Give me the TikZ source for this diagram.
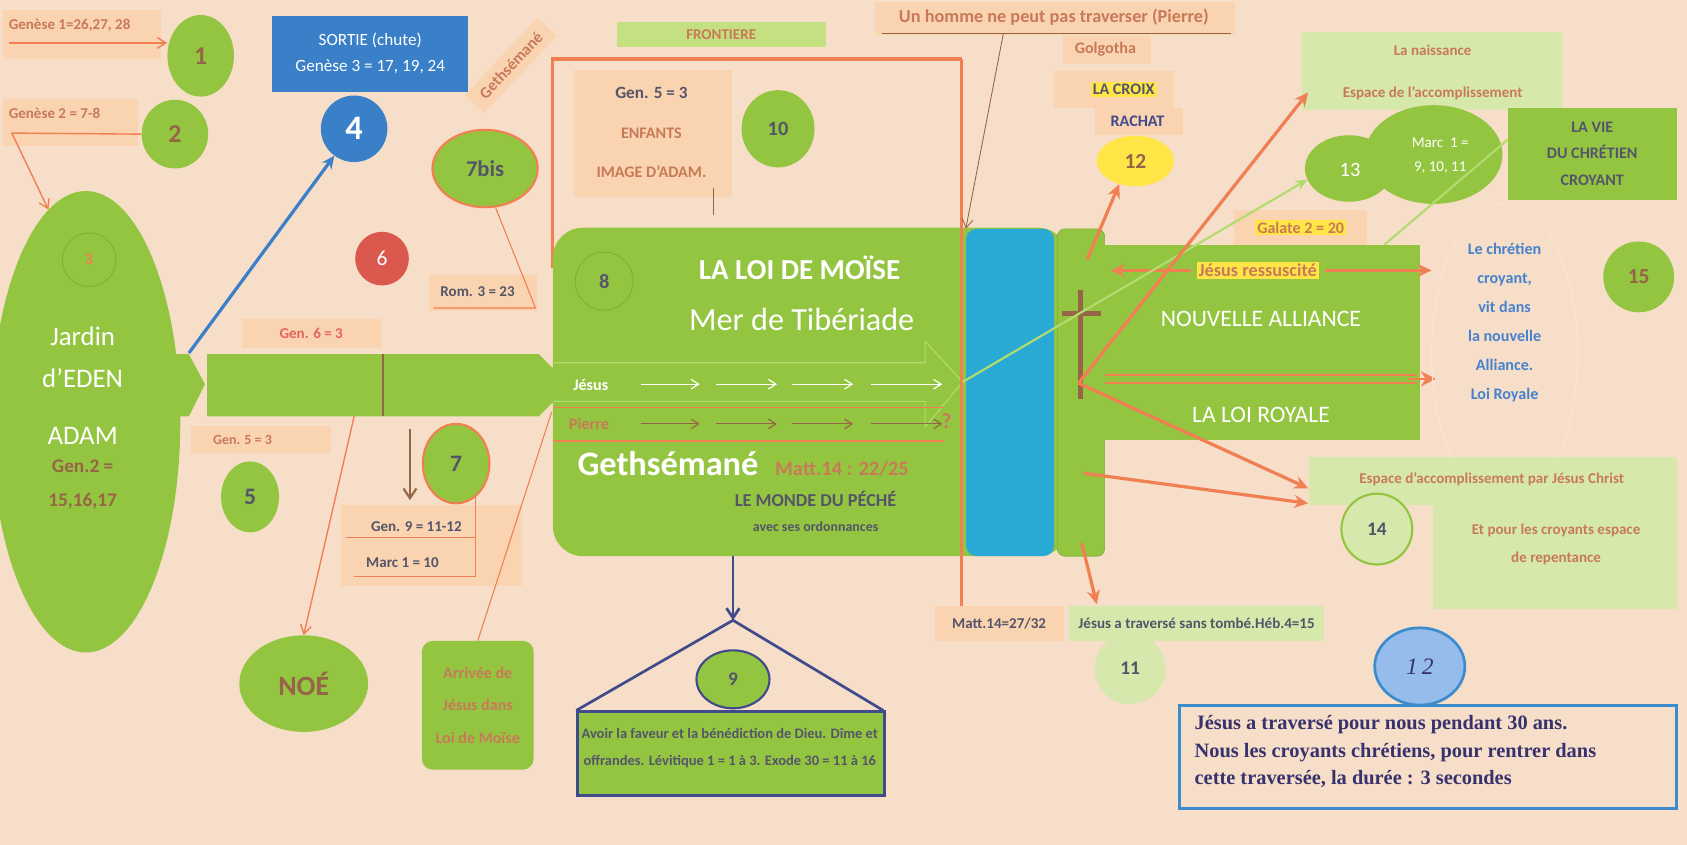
\documentclass[tikz,border=0pt]{standalone}
\usepackage{fontspec}
\setmainfont{Carlito}
\newfontfamily\serifbold{Liberation Serif}
\usetikzlibrary{arrows.meta,shapes.geometric}
\definecolor{bg}{RGB}{247,222,200}
\definecolor{pch}{RGB}{250,211,176}
\definecolor{gr}{RGB}{148,197,65}
\definecolor{grd}{RGB}{125,175,55}
\definecolor{grl}{RGB}{178,220,112}
\definecolor{lgr}{RGB}{214,232,172}
\definecolor{mgr}{RGB}{196,224,128}
\definecolor{org}{RGB}{240,128,82}
\definecolor{tbr}{RGB}{200,122,88}
\definecolor{dbr}{RGB}{150,100,70}
\definecolor{dsl}{RGB}{85,85,105}
\definecolor{bluebox}{RGB}{58,128,200}
\definecolor{seab}{RGB}{40,170,212}
\definecolor{redc}{RGB}{218,88,78}
\definecolor{ylw}{RGB}{255,230,70}
\definecolor{navy}{RGB}{65,75,140}
\definecolor{tblue}{RGB}{70,130,205}
\definecolor{salmon}{RGB}{228,100,92}
\definecolor{cbfill}{RGB}{150,188,235}
\definecolor{cbdraw}{RGB}{60,140,205}
\definecolor{sern}{RGB}{55,50,110}
\newcommand\fsz[1]{\fontsize{#1}{#1}\selectfont}
\tikzset{
  txt/.style={inner sep=0pt, align=center},
  pbox/.style={fill=pch, draw=none, inner sep=0pt, anchor=north west},
  gcirc/.style={ellipse, fill=gr, inner sep=0pt},
  othin/.style={draw=org, line width=1.3pt, -{Straight Barb[length=8pt,width=10pt]}},
  othick/.style={draw=org, line width=3pt, -{Stealth[length=13pt,width=12pt]}},
  bthin/.style={draw=dbr, line width=0.8pt, -{Straight Barb[length=8pt,width=10pt]}},
}
\begin{document}
\begin{tikzpicture}[x=1pt,y=-1pt]
\useasboundingbox (0,0) rectangle (1572,787);
\fill[bg] (0,0) rectangle (1572,787);

% ---------- top left
\node[pbox, minimum width=147pt, minimum height=46pt] (g1box) at (3,9) {};
\node[txt, anchor=west, text=tbr, font=\bfseries\fsz{14}] (g1txt) at (8,24) {Genèse 1=26,27, 28};
\node[gcirc, minimum width=62pt, minimum height=76pt, text=dbr, font=\bfseries\fsz{24}] (c1) at (187,52) {1};
\coordinate (g1s) at (8,40);
\draw[othin] (g1s) -- (g1s -| c1.west);

\node[pbox, minimum width=125pt, minimum height=44pt] (g2box) at (3,92) {};
\node[txt, anchor=west, text=tbr, font=\bfseries\fsz{14}] (g2txt) at (8,106) {Genèse 2 = 7-8};
\node[gcirc, minimum width=62pt, minimum height=64pt, text=dbr, font=\bfseries\fsz{24}] (c2) at (163,125) {2};

\node[ellipse, fill=gr, minimum width=176pt, minimum height=430pt, inner sep=0pt] (jardin) at (80,393) {};
\coordinate (g2a) at (11,124);
\draw[othin] (c2.west) -- (g2a) -- (jardin.100);
\node[circle, draw=grd, line width=0.8pt, minimum size=50pt, inner sep=0pt, text=org, font=\bfseries\fsz{15}] (c3) at (83,242) {3};
\node[txt, text=white, font=\fsz{25}] (jar1) at (77,313) {Jardin};
\node[txt, text=white, font=\fsz{25}] (jar2) at (77,352) {d’EDEN};
\node[txt, text=white, font=\fsz{25}] (jar3) at (77,406) {ADAM};
\node[txt, text=dbr, font=\bfseries\fsz{18}] (jar4) at (77,434) {Gen.2 =};
\node[txt, text=dbr, font=\bfseries\fsz{18}] (jar5) at (77,467) {15,16,17};

% bar
\fill[gr] (160,330) -- (176,330) -- (191,358) -- (176,388) -- (160,388) -- cycle;
\fill[gr] (193,330) -- (502,330) -- (516,344) -- (516,374) -- (502,388) -- (193,388) -- cycle;
\draw[dbr, line width=2pt] (357,330) -- (357,388);

\node[pbox, minimum width=130pt, minimum height=27pt] (g6box) at (225,297) {};
\node[txt, text=salmon, font=\bfseries\fsz{14}] (g6txt) at (290,311) {Gen. 6 = 3};
\node[pbox, minimum width=130pt, minimum height=25pt] (g5box) at (178,397) {};
\node[txt, text=tbr, font=\bfseries\fsz{13}] (g5txt) at (226,410) {Gen. 5 = 3};
\node[gcirc, minimum width=54pt, minimum height=66pt, text=dsl, font=\bfseries\fsz{22}] (c5) at (233,463) {5};

\node[gcirc, minimum width=120pt, minimum height=90pt, text=dbr, font=\bfseries\fsz{26}] (noe) at (283,637) {NOÉ};
\coordinate (noeS) at (330,388);
\draw[othin] (noeS) -- (noe.north);

\coordinate (dA) at (382,400);
\coordinate (dB) at (382,466);
\draw[draw=dbr, line width=2pt, -{Straight Barb[length=9pt,width=12pt]}] (dA) -- (dB);

\node[pbox, minimum width=168pt, minimum height=76pt] (g9box) at (318,470) {};
\node[txt, text=dsl, font=\bfseries\fsz{14}] (g9a) at (388,491) {Gen. 9 = 11-12};
\node[txt, text=dsl, font=\bfseries\fsz{14}] (g9b) at (375,524) {Marc 1 = 10};
\node[gcirc, draw=org, line width=2pt, minimum width=62pt, minimum height=74pt, text=dsl, font=\bfseries\fsz{22}] (c7) at (425,432) {7};
\coordinate (u1) at (322,501);
\coordinate (u2) at (330,537);
\draw[org, line width=1pt] (c7.-60) -- (c7.-60 |- u2) -- (u2);
\draw[org, line width=1pt] (u1) -- (c7.-60 |- u1);

\node[fill=gr, rounded corners=10pt, minimum width=104pt, minimum height=120pt, anchor=north west, inner sep=0pt] (arr) at (393,597) {};
\node[txt, text=tbr, font=\bfseries\fsz{15}] (arrt) at (arr.center) {Arrivée de\\[15pt]Jésus dans\\[15pt]Loi de Moïse};
\coordinate (barE) at (514,384);
\draw[org, line width=1pt] (barE) -- (arr.north);

% ---------- SORTIE, 4, 6, 7bis
\node[fill=bluebox, minimum width=183pt, minimum height=71pt, inner sep=0pt] (sortie) at (345,50) {};
\node[txt, text=white, font=\fsz{16}] (sortt) at (sortie.center) {SORTIE (chute)\\[8pt]Genèse 3 = 17, 19, 24};
\node[circle, fill=bluebox, minimum size=62pt, inner sep=0pt, text=white, font=\bfseries\fsz{32}] (c4) at (330,120) {4};
\coordinate (b0) at (176,329);
\draw[draw=bluebox, line width=3pt, -{Stealth[length=12pt,width=11pt]}] (b0) -- (c4);
\node[circle, fill=redc, minimum size=50pt, inner sep=0pt, text=white, font=\fsz{20}] (c6) at (356,241) {6};

\node[fill=pch, rotate=47, inner xsep=10pt, inner ysep=7pt, text=tbr, font=\bfseries\fsz{15}] (geth) at (476,61) {Gethsémané};
\node[gcirc, draw=org, line width=2pt, minimum width=98pt, minimum height=72pt, text=dsl, font=\bfseries\fsz{21}] (c7b) at (452,157) {7bis};
\node[pbox, minimum width=100pt, minimum height=34pt] (rombox) at (400,256) {};
\node[txt, text=dsl, font=\bfseries\fsz{14}] (romt) at (445,272) {Rom. 3 = 23};
\coordinate (romR) at (499,287);
\coordinate (romL) at (404,287);
\draw[org, line width=1pt] (c7b.-75) -- (romR) -- (romL);

% ---------- top middle
\node[fill=mgr, minimum width=195pt, minimum height=23pt, inner sep=0pt, text=tbr, font=\bfseries\fsz{14}] (front) at (672,32) {FRONTIERE};
\coordinate (fA) at (515,250);
\coordinate (fB) at (515,55);
\coordinate (fC) at (896,55);
\draw[org, line width=3pt] (fA) -- (fB) -- (fC);

\node[pbox, minimum width=147pt, minimum height=118pt] (enfbox) at (535,65) {};
\node[txt, text=dsl, font=\bfseries\fsz{16}] (enf1) at (607,87) {Gen. 5 = 3};
\node[txt, text=tbr, font=\bfseries\fsz{15}] (enf2) at (607,124) {ENFANTS};
\node[txt, text=tbr, font=\bfseries\fsz{15}] (enf3) at (607,160) {IMAGE D’ADAM.};
\coordinate (enfl1) at (665,175);
\coordinate (enfl2) at (665,200);
\draw[dbr, line width=0.8pt] (enfl1) -- (enfl2);
\node[gcirc, minimum width=68pt, minimum height=72pt, text=dsl, font=\bfseries\fsz{19}] (c10) at (725,120) {10};

\node[pbox, minimum width=336pt, minimum height=30pt] (uhbox) at (815,2) {};
\node[txt, text=tbr, font=\bfseries\fsz{17}] (uht) at (982,16) {Un homme ne peut pas traverser (Pierre)};
\coordinate (uhL) at (822,31);
\coordinate (uhR) at (1147,31);
\coordinate (uhA) at (935,31);
\draw[dbr, line width=1pt] (uhL) -- (uhR);

\node[pbox, minimum width=82pt, minimum height=26pt] (golbox) at (990,33) {};
\node[txt, text=tbr, font=\bfseries\fsz{15}] (golt) at (1030,46) {Golgotha};
\node[pbox, minimum width=112pt, minimum height=34pt] (crbox) at (982,66) {};
\node[fill=ylw, inner xsep=2pt, inner ysep=2pt, text=dsl, font=\bfseries\fsz{15}] (croix) at (1047,83) {LA CROIX};
\node[pbox, minimum width=82pt, minimum height=26pt] (rabox) at (1020,100) {};
\node[txt, text=navy, font=\bfseries\fsz{15}] (rach) at (1060,113) {RACHAT};
\node[ellipse, fill=ylw, minimum width=72pt, minimum height=47pt, inner sep=0pt, text=dbr, font=\bfseries\fsz{20}] (c12) at (1058,150) {12};

% ---------- big box
\node[fill=gr, rounded corners=28pt, minimum width=480pt, minimum height=306pt, anchor=north west, inner sep=0pt] (loi) at (515,212) {};
\node[circle, draw=grd, line width=0.8pt, minimum size=54pt, inner sep=0pt, text=dsl, font=\bfseries\fsz{19}] (c8) at (563,262) {8};
\node[txt, text=white, font=\bfseries\fsz{27}] (loi1) at (745,250) {LA LOI DE MOÏSE};
\node[txt, text=white, font=\fsz{30}] (loi2) at (747,298) {Mer de Tibériade};
\draw[grl, line width=1pt] (516,338) -- (862,338) -- (862,318) -- (897,356) -- (862,398) -- (862,374) -- (516,374);
\draw[org, line width=1.2pt] (516,380) -- (880,380);
\draw[org, line width=1.2pt] (516,411) -- (880,411);
\node[txt, text=white, font=\bfseries\fsz{15}, anchor=west] (jes) at (534,359) {Jésus};
\node[txt, text=tbr, font=\bfseries\fsz{15}, anchor=west] (pie) at (530,395) {Pierre};
\foreach \a/\b [count=\i] in {597/652,667/724,738/795,812/878}{
  \coordinate (ja\i) at (\a,358); \coordinate (jb\i) at (\b,358);
  \draw[white, line width=1.1pt, -{Straight Barb[length=7pt,width=9pt]}] (ja\i) -- (jb\i);
  \coordinate (pa\i) at (\a,395); \coordinate (pb\i) at (\b,395);
  \draw[dbr, line width=1.1pt, -{Straight Barb[length=7pt,width=9pt]}] (pa\i) -- (pb\i);
}
\node[txt, text=tbr, font=\bfseries\fsz{20}] (qm) at (882,392) {?};
\node[txt, text=white, font=\bfseries\fsz{32}, anchor=west] (geth2) at (538,432) {Gethsémané};
\node[txt, text=tbr, font=\bfseries\fsz{19}, anchor=west] (mt1) at (722,437) {Matt.14 : 22/25};
\node[txt, text=dsl, font=\bfseries\fsz{17}] (monde) at (760,465) {LE MONDE DU PÉCHÉ};
\node[txt, text=dsl, font=\bfseries\fsz{13}] (ordo) at (760,491) {avec ses ordonnances};

% sea, strip, band
\node[fill=seab, rounded corners=10pt, minimum width=82pt, minimum height=305pt, anchor=north west, inner sep=0pt] (sea) at (900,213) {};
\node[fill=gr, draw=grd, line width=0.6pt, rounded corners=7pt, minimum width=44pt, minimum height=305pt, anchor=north west, inner sep=0pt] (strip) at (985,213) {};
\node[fill=gr, minimum width=295pt, minimum height=182pt, anchor=north west, inner sep=0pt] (band) at (1028,228) {};
\coordinate (crT) at (1007,270);
\coordinate (crB) at (1007,372);
\coordinate (crL) at (990,292);
\coordinate (crR) at (1026,292);
\draw[dbr, line width=5pt] (crT) -- (crB);
\draw[dbr, line width=5pt] (crL) -- (crR);
\draw[org, line width=3pt] (fC) -- (fC |- loi.north);

\node[txt, text=white, font=\fsz{22}] (na) at (1175,297) {NOUVELLE ALLIANCE};
\node[txt, text=white, font=\fsz{22}] (lr) at (1175,387) {LA LOI ROYALE};

% ---------- right region
\node[fill=lgr, minimum width=242pt, minimum height=72pt, anchor=north west, inner sep=0pt] (naiss) at (1213,30) {};
\node[txt, text=tbr, font=\bfseries\fsz{14}] (nai1) at (1335,47) {La naissance};
\node[txt, text=tbr, font=\bfseries\fsz{14}] (nai2) at (1335,87) {Espace de l’accomplissement};

\node[ellipse, fill=gr, minimum width=128pt, minimum height=92pt, inner sep=0pt] (c13b) at (1336,144) {};
\node[ellipse, fill=gr, minimum width=82pt, minimum height=62pt, inner sep=0pt] (c13) at (1257,157) {};
\node[txt, text=white, font=\fsz{19}] (t13) at (1258,158) {13};
\node[txt, text=white, font=\fsz{14}] (t13b) at (1342,145) {Marc\ \ 1 =\\[9pt]9, 10, 11};

\node[fill=gr, minimum width=157pt, minimum height=86pt, anchor=north west, inner sep=0pt] (lavie) at (1405,100) {};
\node[txt, text=dsl, font=\bfseries\fsz{15}] (lavt) at (lavie.center) {LA VIE\\[10pt]DU CHRÉTIEN\\[10pt]CROYANT};

\node[fill=pch, minimum width=124pt, minimum height=32pt, inner sep=0pt] (galbox) at (1212,212) {};
\node[fill=ylw, inner xsep=2pt, inner ysep=2pt, text=tbr, font=\bfseries\fsz{15}] (gal) at (1212,212) {Galate 2 = 20};
\node[fill=ylw, inner xsep=2pt, inner ysep=2pt, text=tbr, font=\bfseries\fsz{17}] (jr) at (1172,252) {Jésus ressuscité};
\coordinate (jrL) at (1035,252);
\coordinate (jrR) at (1334,252);
\draw[othick, line width=2.5pt, shorten <=5pt] (jr.west) -- (jrL);
\draw[othick, line width=2.5pt, shorten <=5pt] (jr.east) -- (jrR);

\coordinate (dl1) at (1030,349);
\coordinate (dl2) at (1320,349);
\coordinate (dl3) at (1030,357);
\coordinate (dl4) at (1320,357);
\coordinate (dl5) at (1312,353);
\coordinate (dl6) at (1338,353);
\draw[org, line width=1.8pt] (dl1) -- (dl2);
\draw[org, line width=1.8pt] (dl3) -- (dl4);
\draw[org, line width=1.5pt, -{Stealth[length=14pt,width=14pt]}] (dl5) -- (dl6);

\node[ellipse, draw=org!22, line width=1pt, minimum width=136pt, minimum height=282pt, inner sep=0pt] (fel) at (1402,330) {};
\node[txt, text=tblue, font=\bfseries\fsz{15}] (chr) at (1402,301) {Le chrétien\\[12pt]croyant,\\[12pt]vit dans\\[12pt]la nouvelle\\[12pt]Alliance.\\[12pt]Loi Royale};
\node[gcirc, minimum width=66pt, minimum height=66pt, text=dbr, font=\bfseries\fsz{20}] (c15) at (1527,258) {15};

\node[fill=lgr, minimum width=342pt, minimum height=44pt, anchor=north west, inner sep=0pt] (esp1) at (1220,426) {};
\node[fill=lgr, minimum width=227pt, minimum height=98pt, anchor=north west, inner sep=0pt] (esp2) at (1335,469) {};
\node[txt, text=tbr, font=\bfseries\fsz{14}] (espt) at (1390,447) {Espace d’accomplissement par Jésus Christ};
\node[txt, text=tbr, font=\bfseries\fsz{14}] (espt2) at (1450,507) {Et pour les croyants espace\\[12pt]de repentance};
\node[circle, fill=lgr, draw=gr, line width=2pt, minimum size=66pt, inner sep=0pt, text=dsl, font=\bfseries\fsz{18}] (c14) at (1283,493) {14};

% ---------- bottom
\node[fill=pch, minimum width=120pt, minimum height=32pt, inner sep=0pt, text=dsl, font=\bfseries\fsz{14}] (matt) at (931,581) {Matt.14=27/32};
\node[fill=lgr, minimum width=238pt, minimum height=32pt, inner sep=0pt, text=dsl, font=\bfseries\fsz{14}] (jat) at (1115,581) {Jésus a traversé sans tombé.Héb.4=15};
\node[circle, fill=lgr, minimum size=66pt, inner sep=0pt, text=dsl, font=\bfseries\fsz{18}] (c11) at (1053,623) {11};
\draw[org, line width=3pt] (fC |- loi.north) -- (fC |- matt.north);

\coordinate (apex) at (683,578);
\coordinate (triL) at (537,662);
\coordinate (triR) at (823,662);
\draw[navy, line width=2.5pt, line join=round] (triL) -- (apex) -- (triR);
\draw[navy, line width=2.5pt, -{Straight Barb[length=9pt,width=12pt]}] (apex |- loi.south) -- (apex);
\node[fill=gr, draw=navy, line width=2.5pt, minimum width=286pt, minimum height=78pt, anchor=north west, inner sep=0pt] (avoir) at (537,662) {};
\node[txt, text=dsl, font=\bfseries\fsz{13.5}] (avt) at (680,697) {Avoir la faveur et la bénédiction de Dieu. Dîme et\\[11pt]offrandes. Lévitique 1 = 1 à 3. Exode 30 = 11 à 16};
\node[ellipse, fill=gr, draw=navy, line width=2pt, minimum width=68pt, minimum height=54pt, inner sep=0pt, text=dsl, font=\bfseries\fsz{18}] (c9) at (683,633) {9};

\node[draw=cbdraw, line width=2.5pt, fill=bg, minimum width=463pt, minimum height=96pt, anchor=north west, inner sep=0pt] (sbox) at (1098,656) {};
\node[anchor=north west, align=left, inner sep=0pt, text=sern, font=\serifbold\bfseries\fsz{19}] (stext) at (1113,666) {Jésus a traversé pour nous pendant 30 ans.\\[7pt]Nous les croyants chrétiens, pour rentrer dans\\[7pt]cette traversée, la durée : 3 secondes};
\node[ellipse, fill=cbfill, draw=cbdraw, line width=2.5pt, minimum width=84pt, minimum height=72pt, inner sep=0pt, text=sern, font=\serifbold\itshape\fsz{22}] (c12b) at (1323,621) {1\,2};

% ---------- connectors on top
\coordinate (jtip) at (897,356);
\draw[grl, line width=2pt, -{Stealth[length=11pt,width=10pt]}] (jtip) -- (c13.195);
\coordinate (bandTR) at (1290,228);
\draw[grl, line width=2pt] (bandTR) -- (lavie.west |- 0,130);
\draw[bthin] (uhA) -- (sea.north west);
\coordinate (hub) at (1005,357);
\coordinate (c12s) at (1013,242);
\draw[othick] (c12s) -- (c12.235);
\coordinate (naissT) at (1219,86);
\draw[othick] (hub) -- (naissT);
\coordinate (espT1) at (1219,455);
\coordinate (espT2) at (1219,469);
\coordinate (s2) at (1010,441);
\draw[othick] (hub) -- (espT1);
\draw[othick] (s2) -- (espT2);
\coordinate (s3) at (1008,506);
\coordinate (jatT) at (1022,563);
\draw[othick] (s3) -- (jatT);
\end{tikzpicture}
\end{document}
